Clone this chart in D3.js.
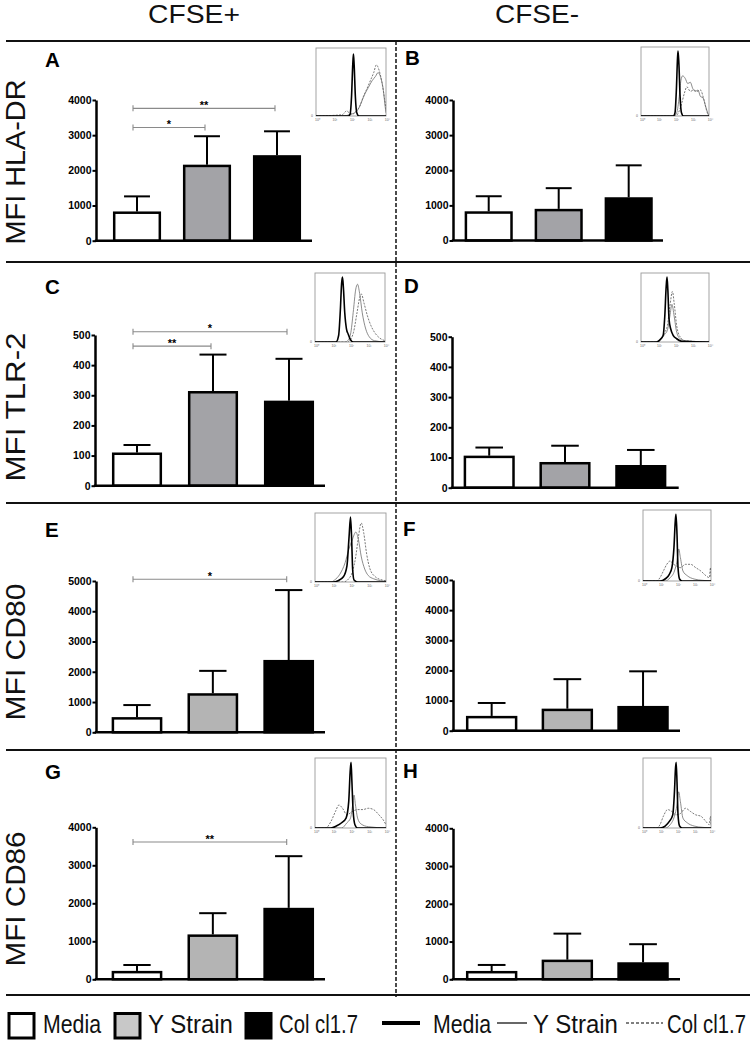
<!DOCTYPE html>
<html><head><meta charset="utf-8">
<script src="https://cdn.jsdelivr.net/npm/d3@7"></script>
<style>body{margin:0;background:#fff}svg{display:block}</style>
</head><body><svg id="c" width="754" height="1040"></svg>
<script>
// ---------------- DATA ----------------
const groups = ["Media", "Y Strain", "Col cl1.7"];
const columnTitles = ["CFSE+", "CFSE-"];
const rowMarkers = ["MFI HLA-DR", "MFI TLR-2", "MFI CD80", "MFI CD86"];
const panelIds = ["A", "B", "C", "D", "E", "F", "G", "H"];

const meanA = [830, 2160, 2430], sdA = [430, 810, 680];
const meanB = [830, 900, 1230],  sdB = [430, 590, 910];
const meanC = [110, 314, 282],   sdC = [25, 121, 139];
const meanD = [106, 85, 75],     sdD = [27, 54, 50];
const meanE = [500, 1290, 2390], sdE = [400, 740, 2310];
const meanF = [490, 730, 820],   sdF = [430, 980, 1150];
const meanG = [220, 1180, 1880], sdG = [156, 560, 1360];
const meanH = [220, 520, 450],   sdH = [160, 690, 480];

const ticks4000 = [0, 1000, 2000, 3000, 4000];
const ticks500 = [0, 100, 200, 300, 400, 500];
const ticks5000 = [0, 1000, 2000, 3000, 4000, 5000];

const sigA = [{from: "Media", to: "Y Strain", label: "*", y: 3220}, {from: "Media", to: "Col cl1.7", label: "**", y: 3763}];
const sigC = [{from: "Media", to: "Y Strain", label: "**", y: 463}, {from: "Media", to: "Col cl1.7", label: "*", y: 511}];
const sigE = [{from: "Media", to: "Col cl1.7", label: "*", y: 5056}];
const sigG = [{from: "Media", to: "Col cl1.7", label: "**", y: 3613}];

// inset histograms: [log10 fluorescence, % of max]
const histMediaA = [[0,0],[1.85,0],[1.95,3],[2.03,30],[2.1,80],[2.14,97],[2.18,80],[2.25,30],[2.33,5],[2.45,0],[4,0]];
const histYA = [[0,0],[1.6,0],[1.9,2],[2.2,5],[2.4,10],[2.6,22],[2.8,35],[3.0,45],[3.2,55],[3.4,62],[3.55,68],[3.7,60],[3.85,40],[3.95,15],[4,5]];
const histColA = [[0,0],[1.5,2],[1.75,8],[1.9,5],[2.1,3],[2.3,8],[2.5,15],[2.7,30],[2.9,42],[3.1,55],[3.3,68],[3.45,80],[3.6,72],[3.75,55],[3.9,30],[4,10]];
const histMediaB = [[0,0],[1.9,0],[2.0,5],[2.08,40],[2.15,90],[2.18,100],[2.23,80],[2.3,30],[2.38,5],[2.5,0],[4,0]];
const histYB = [[0,0],[1.9,0],[2.1,5],[2.25,30],[2.35,55],[2.45,62],[2.6,58],[2.75,50],[2.9,52],[3.05,42],[3.2,38],[3.35,40],[3.5,30],[3.65,28],[3.8,15],[3.95,3],[4,0]];
const histColB = [[0,0],[2.0,0],[2.2,5],[2.4,20],[2.55,35],[2.7,45],[2.9,38],[3.1,40],[3.3,38],[3.5,40],[3.7,25],[3.9,5],[4,0]];
const histMediaC = [[0,0],[1.2,0],[1.35,10],[1.45,50],[1.52,90],[1.57,100],[1.62,85],[1.7,45],[1.8,20],[1.9,12],[2.0,5],[2.2,0],[4,0]];
const histYC = [[0,0],[1.7,0],[1.9,3],[2.05,15],[2.2,50],[2.32,80],[2.43,89],[2.55,75],[2.7,45],[2.9,20],[3.1,8],[3.4,2],[4,0]];
const histColC = [[0,0],[1.8,0],[2.0,3],[2.2,15],[2.4,45],[2.55,68],[2.65,74],[2.8,60],[3.0,40],[3.2,25],[3.4,15],[3.7,6],[4,2]];
const histMediaD = [[0,0],[0.9,0],[1.1,3],[1.3,10],[1.4,40],[1.48,85],[1.53,100],[1.58,80],[1.65,35],[1.75,20],[1.9,10],[2.1,5],[2.4,1],[4,0]];
const histYD = [[0,0],[1.0,0],[1.2,5],[1.4,12],[1.55,18],[1.7,40],[1.82,58],[1.95,40],[2.1,15],[2.3,5],[2.6,2],[4,0]];
const histColD = [[0,0],[1.0,0],[1.2,6],[1.4,15],[1.55,25],[1.7,55],[1.85,78],[1.95,60],[2.1,25],[2.3,8],[2.6,2],[4,0]];
const histMediaE = [[0,0],[1.0,0],[1.3,2],[1.6,8],[1.8,25],[1.92,70],[2.0,100],[2.06,70],[2.12,20],[2.2,3],[2.4,0],[4,0]];
const histYE = [[0,0],[0.9,0],[1.1,3],[1.4,12],[1.7,30],[1.9,50],[2.1,65],[2.3,77],[2.45,65],[2.6,40],[2.8,20],[3.0,10],[3.3,5],[3.7,2],[4,1]];
const histColE = [[0,0],[1.6,0],[1.9,5],[2.1,15],[2.3,40],[2.45,70],[2.6,91],[2.75,75],[2.9,45],[3.1,20],[3.4,8],[3.8,3],[4,2]];
const histMediaF = [[0,0],[1.0,0],[1.3,3],[1.55,10],[1.7,20],[1.82,50],[1.9,90],[1.94,100],[2.0,70],[2.06,20],[2.15,3],[2.3,0],[4,0]];
const histYF = [[0,0],[1.3,0],[1.6,5],[1.85,15],[2.0,30],[2.1,48],[2.2,35],[2.35,15],[2.6,8],[3.0,3],[3.5,1],[4,0]];
const histColF = [[0,0],[0.8,0],[1.0,5],[1.2,15],[1.4,25],[1.6,30],[1.8,25],[2.0,22],[2.2,20],[2.5,25],[2.8,25],[3.1,20],[3.4,15],[3.7,8],[3.9,5],[3.97,20],[4,5]];
const histMediaG = [[0,0],[0.9,0],[1.2,3],[1.5,8],[1.75,15],[1.9,40],[1.98,85],[2.03,100],[2.08,70],[2.15,25],[2.25,5],[2.4,0],[4,0]];
const histYG = [[0,0],[1.5,0],[1.8,8],[2.0,15],[2.12,35],[2.2,50],[2.28,35],[2.4,15],[2.6,6],[3.0,2],[4,0]];
const histColG = [[0,0],[0.6,0],[0.9,10],[1.15,25],[1.35,35],[1.55,30],[1.8,20],[2.1,25],[2.4,28],[2.7,28],[3.0,30],[3.3,28],[3.6,20],[3.85,12],[4,5]];
const histMediaH = [[0,0],[1.0,0],[1.3,3],[1.55,10],[1.75,20],[1.85,55],[1.91,90],[1.95,100],[2.0,70],[2.06,20],[2.15,3],[2.3,0],[4,0]];
const histYH = [[0,0],[1.3,0],[1.6,5],[1.85,18],[2.0,35],[2.1,55],[2.2,40],[2.35,15],[2.6,8],[3.0,3],[3.5,1],[4,0]];
const histColH = [[0,0],[0.8,0],[1.0,5],[1.2,18],[1.45,28],[1.7,25],[1.95,20],[2.2,22],[2.5,30],[2.8,25],[3.1,20],[3.4,18],[3.7,10],[3.9,5],[3.97,18],[4,5]];
const insetDecades = ["10⁰", "10¹", "10²", "10³", "10⁴"];

// ---------------- LAYOUT (positions / styles) ----------------
const FONT = "'Liberation Sans', Arial, Helvetica, sans-serif";
const grayDark = "#a3a3a7", grayLight = "#b4b4b4";
const layout = {
  A: {axisX: 96,  xEnd: 312,   y0: 240.7, yTop: 100,   b0: 113,   b1: 301,   p: 0.314, lab: [45, 67],  ins: [316, 48, 70, 68],  gray: grayDark},
  B: {axisX: 453, xEnd: 663,   y0: 240.5, yTop: 100,   b0: 464.7, b1: 652.7, p: 0.314, lab: [405, 65], ins: [641, 47, 68, 69],  gray: grayDark},
  C: {axisX: 95,  xEnd: 325,   y0: 485.7, yTop: 335,   b0: 112,   b1: 314,   p: 0.342, lab: [45, 294], ins: [315, 273, 70, 69], gray: grayDark},
  D: {axisX: 452, xEnd: 678.7, y0: 487.7, yTop: 336.7, b0: 463.7, b1: 666.3, p: 0.327, lab: [404, 293], ins: [641, 273, 68, 69], gray: grayDark},
  E: {axisX: 96,  xEnd: 325,   y0: 732.3, yTop: 581,   b0: 111.7, b1: 314,   p: 0.333, lab: [45, 537], ins: [315, 513, 71, 69], gray: grayLight},
  F: {axisX: 453, xEnd: 680,   y0: 730.7, yTop: 580,   b0: 466,   b1: 668.7, p: 0.322, lab: [403, 536], ins: [643, 510, 68, 71], gray: grayLight},
  G: {axisX: 96,  xEnd: 325,   y0: 979.3, yTop: 827.3, b0: 111.7, b1: 314,   p: 0.333, lab: [45, 779], ins: [315, 758, 71, 70], gray: grayLight},
  H: {axisX: 453, xEnd: 680,   y0: 979.3, yTop: 828.3, b0: 466,   b1: 668.7, p: 0.322, lab: [403, 778], ins: [643, 758, 68, 70], gray: grayLight}
};

const panels = [
  {id: "A", mean: meanA, sd: sdA, ticks: ticks4000, sig: sigA, hist: [histMediaA, histYA, histColA]},
  {id: "B", mean: meanB, sd: sdB, ticks: ticks4000, sig: [],   hist: [histMediaB, histYB, histColB]},
  {id: "C", mean: meanC, sd: sdC, ticks: ticks500,  sig: sigC, hist: [histMediaC, histYC, histColC]},
  {id: "D", mean: meanD, sd: sdD, ticks: ticks500,  sig: [],   hist: [histMediaD, histYD, histColD]},
  {id: "E", mean: meanE, sd: sdE, ticks: ticks5000, sig: sigE, hist: [histMediaE, histYE, histColE]},
  {id: "F", mean: meanF, sd: sdF, ticks: ticks5000, sig: [],   hist: [histMediaF, histYF, histColF]},
  {id: "G", mean: meanG, sd: sdG, ticks: ticks4000, sig: sigG, hist: [histMediaG, histYG, histColG]},
  {id: "H", mean: meanH, sd: sdH, ticks: ticks4000, sig: [],   hist: [histMediaH, histYH, histColH]}
];

const svg = d3.select("#c");
svg.append("rect").attr("width", 754).attr("height", 1040).attr("fill", "#fff");

// ---- frame: titles, separators, dashed divider
const titleX = [194, 537], titleLen = [92, 84];
columnTitles.forEach((t, i) => {
  svg.append("text").attr("x", titleX[i]).attr("y", 23).attr("text-anchor", "middle")
    .attr("font-family", FONT).attr("font-size", 26).attr("fill", "#111")
    .attr("textLength", titleLen[i]).attr("lengthAdjust", "spacingAndGlyphs").text(t);
});
[41, 262, 503, 750, 995].forEach(y => {
  svg.append("line").attr("x1", 6).attr("x2", 750).attr("y1", y).attr("y2", y)
    .attr("stroke", "#111").attr("stroke-width", 1.8);
});
svg.append("line").attr("x1", 396).attr("x2", 396).attr("y1", 41).attr("y2", 997)
  .attr("stroke", "#111").attr("stroke-width", 1.5).attr("stroke-dasharray", "4,2");

// row y-labels
const rowLabelY = [162, 407, 652, 899], rowLabelLen = [165, 149, 137, 135];
rowMarkers.forEach((t, i) => {
  svg.append("text").attr("transform", `translate(25,${rowLabelY[i]}) rotate(-90)`)
    .attr("text-anchor", "middle").attr("font-family", FONT).attr("font-size", 27).attr("fill", "#111")
    .attr("textLength", rowLabelLen[i]).attr("lengthAdjust", "spacingAndGlyphs").text(t);
});

// ---- panels
panels.forEach(P => {
  const L = layout[P.id];
  const g = svg.append("g");
  const y = d3.scaleLinear().domain([0, P.ticks[P.ticks.length - 1]]).range([L.y0, L.yTop]);
  const x = d3.scaleBand().domain(groups).range([L.b0, L.b1]).paddingInner(L.p).paddingOuter(0);
  const bw = x.bandwidth();
  const fills = ["#ffffff", L.gray, "#000000"];

  g.append("text").attr("x", L.lab[0]).attr("y", L.lab[1]).attr("font-family", FONT)
    .attr("font-weight", "bold").attr("font-size", 20.5).attr("fill", "#000").text(P.id);

  groups.forEach((k, i) => {
    const cx = x(k) + bw / 2;
    const top = y(P.mean[i] + P.sd[i]);
    g.append("line").attr("x1", cx).attr("x2", cx).attr("y1", y(P.mean[i])).attr("y2", top)
      .attr("stroke", "#000").attr("stroke-width", 2);
    g.append("line").attr("x1", cx - bw * 0.27).attr("x2", cx + bw * 0.27).attr("y1", top).attr("y2", top)
      .attr("stroke", "#000").attr("stroke-width", 2);
  });
  g.selectAll("rect.bar").data(groups).join("rect").attr("class", "bar")
    .attr("x", d => x(d) + 1.2).attr("width", bw - 2.4)
    .attr("y", (d, i) => y(P.mean[i]) + 1.2).attr("height", (d, i) => y(0) - y(P.mean[i]) - 1.2)
    .attr("fill", (d, i) => fills[i]).attr("stroke", "#000").attr("stroke-width", 2.5);

  const ax = g.append("g").attr("transform", `translate(${L.axisX},0)`)
    .call(d3.axisLeft(y).tickValues(P.ticks).tickSize(3.5).tickSizeOuter(0).tickPadding(1).tickFormat(d3.format("d")));
  ax.select(".domain").attr("stroke", "#000").attr("stroke-width", 2.5);
  ax.selectAll(".tick line").attr("stroke", "#000").attr("stroke-width", 2);
  ax.selectAll(".tick text").attr("font-family", FONT).attr("font-weight", "bold").attr("font-size", 10.5).attr("fill", "#000");
  g.append("line").attr("x1", L.axisX - 1.2).attr("x2", L.xEnd).attr("y1", y(0)).attr("y2", y(0))
    .attr("stroke", "#000").attr("stroke-width", 2.5);

  P.sig.forEach(s => {
    const x1 = x(s.from) + bw / 2 - 4, x2 = x(s.to) + bw / 2 - 2, yy = y(s.y);
    g.append("path").attr("d", `M${x1},${yy - 3}V${yy + 3}M${x1},${yy}H${x2}M${x2},${yy - 3}V${yy + 3}`)
      .attr("fill", "none").attr("stroke", "#8a8a8a").attr("stroke-width", 1.1);
    g.append("text").attr("x", (x1 + x2) / 2).attr("y", yy + 0.5).attr("text-anchor", "middle")
      .attr("font-family", FONT).attr("font-weight", "bold").attr("font-size", 11).attr("fill", "#000").text(s.label);
  });

  const [ix, iy, iw, ih] = L.ins;
  const ig = g.append("g").attr("transform", `translate(${ix},${iy})`);
  const hx = d3.scaleLinear().domain([0, 4]).range([0, iw]);
  const hy = d3.scaleLinear().domain([0, 100]).range([ih, ih * 0.06]);
  ig.append("rect").attr("width", iw).attr("height", ih).attr("fill", "#fff")
    .attr("stroke", "#9a9a9a").attr("stroke-width", 0.9);
  const clipId = "clip" + P.id;
  ig.append("clipPath").attr("id", clipId).append("rect").attr("width", iw).attr("height", ih);
  const line = d3.line().x(d => hx(d[0])).y(d => hy(d[1])).curve(d3.curveMonotoneX);
  const styles = [
    {stroke: "#000", w: 1.6, dash: null},
    {stroke: "#6e6e6e", w: 0.8, dash: null},
    {stroke: "#555", w: 0.8, dash: "2,1.3"}
  ];
  [2, 1, 0].forEach(k => {
    ig.append("path").attr("d", line(P.hist[k])).attr("clip-path", `url(#${clipId})`)
      .attr("fill", "none").attr("stroke", styles[k].stroke).attr("stroke-width", styles[k].w)
      .attr("stroke-dasharray", styles[k].dash);
  });
  ig.append("text").attr("x", -3).attr("y", ih + 1).attr("font-family", FONT).attr("font-size", 3.5)
    .attr("fill", "#666").attr("text-anchor", "end").text("0");
  insetDecades.forEach((t, i) => {
    ig.append("text").attr("x", hx(i) + 1.5).attr("y", ih + 5).attr("font-family", FONT).attr("font-size", 3.5)
      .attr("fill", "#666").attr("text-anchor", "middle").text(t);
  });
});

// ---- legend (texts horizontally condensed via scale to the reference widths)
function legendText(xPos, label, targetW) {
  const t = svg.append("text").attr("x", 0).attr("y", 0).attr("font-family", FONT).attr("font-size", 25)
    .attr("fill", "#111").text(label);
  const natural = t.node().getComputedTextLength() || targetW;
  t.attr("transform", `translate(${xPos},1033) scale(${targetW / natural},1)`);
}
const legendFills = ["#ffffff", "#c8c8c8", "#000000"];
const legendBoxX = [9, 115, 246];
const legendTextX = [43, 148, 279];
const legendTextLen = [58, 85, 79];
groups.forEach((k, i) => {
  svg.append("rect").attr("x", legendBoxX[i]).attr("y", 1013.5).attr("width", 25).attr("height", 24.5)
    .attr("fill", legendFills[i]).attr("stroke", "#000").attr("stroke-width", 3);
  legendText(legendTextX[i], k, legendTextLen[i]);
});
const legendLineX = [[382, 420], [497, 527], [626, 663]];
const legendLineTextX = [433, 533, 667];
const legendLineStyles = [{w: 4, dash: null}, {w: 1.2, dash: null}, {w: 1.1, dash: "3,2"}];
groups.forEach((k, i) => {
  svg.append("line").attr("x1", legendLineX[i][0]).attr("x2", legendLineX[i][1]).attr("y1", 1023).attr("y2", 1023)
    .attr("stroke", "#000").attr("stroke-width", legendLineStyles[i].w).attr("stroke-dasharray", legendLineStyles[i].dash);
  legendText(legendLineTextX[i], k, legendTextLen[i]);
});
</script></body></html>
